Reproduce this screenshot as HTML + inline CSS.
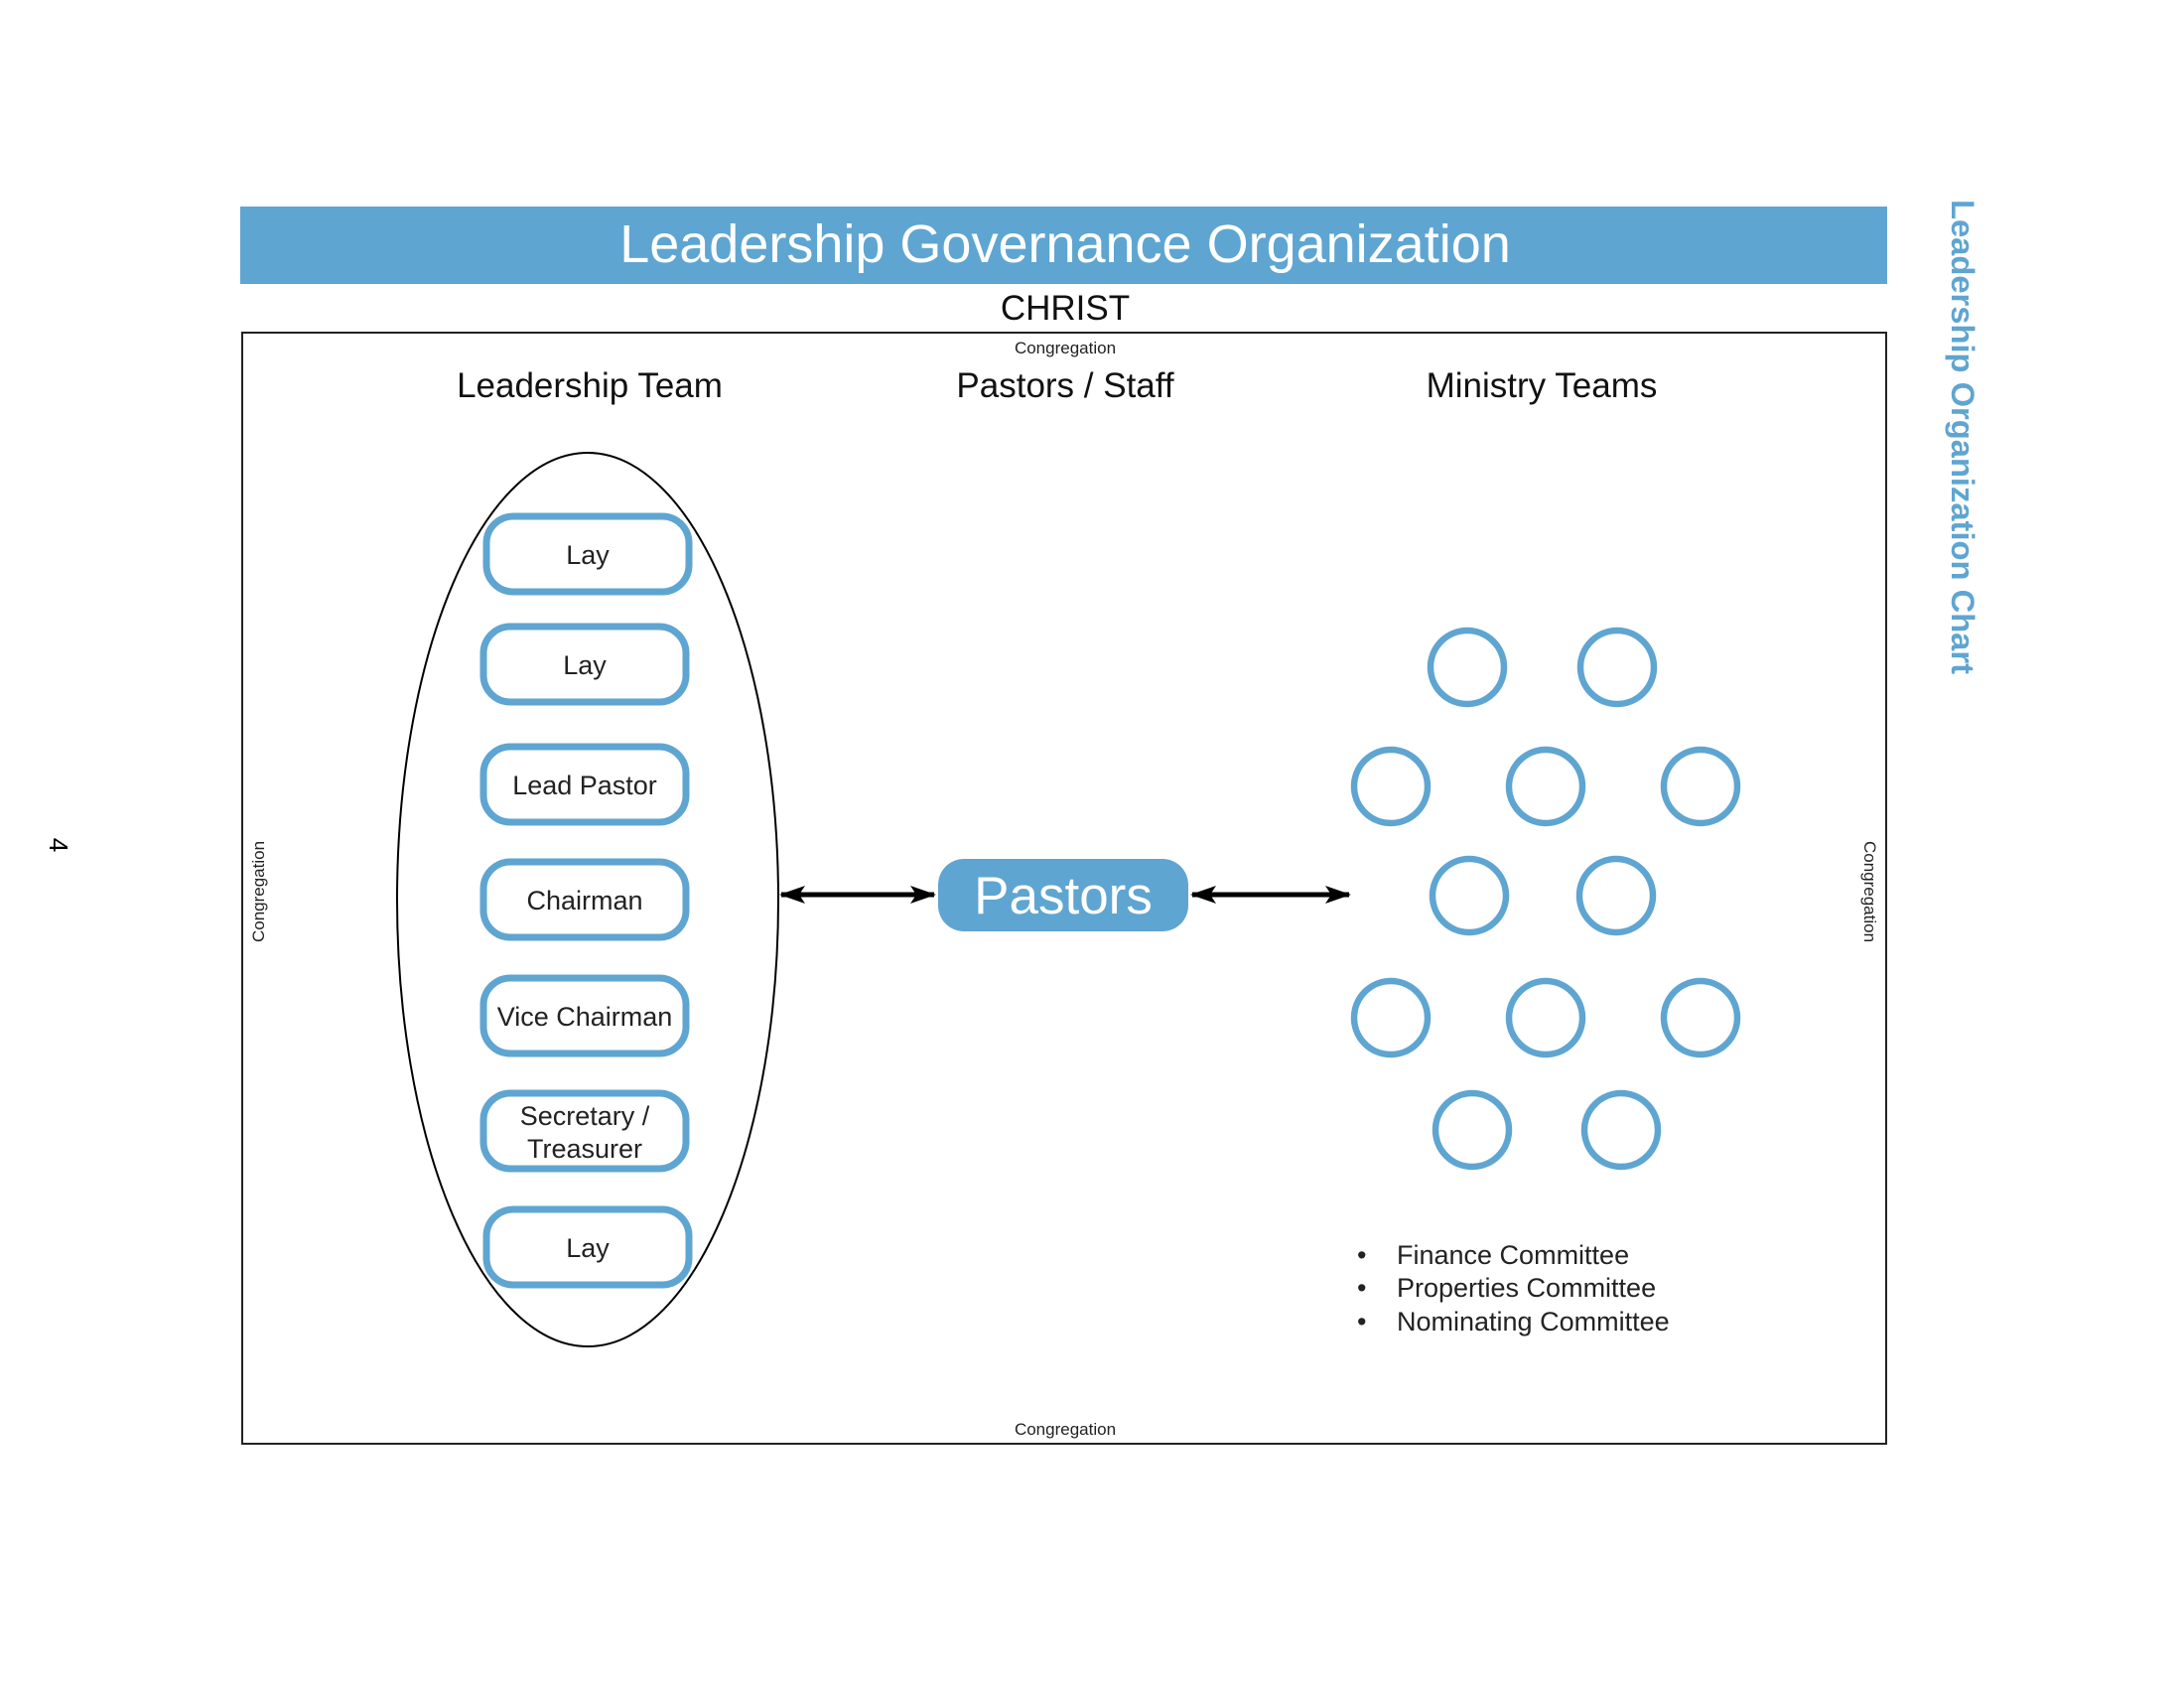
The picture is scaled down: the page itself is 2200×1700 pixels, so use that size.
<!DOCTYPE html>
<html><head><meta charset="utf-8"><style>
html,body{margin:0;padding:0;background:#fff;}
svg{display:block;}
text{font-family:"Liberation Sans",sans-serif;}
</style></head><body>
<svg width="2200" height="1700" viewBox="0 0 2200 1700" xmlns="http://www.w3.org/2000/svg">
<defs>
<marker id="ah" viewBox="0 0 26 18" refX="24" refY="9" markerWidth="26" markerHeight="18" markerUnits="userSpaceOnUse" orient="auto-start-reverse">
<path d="M0,0 L26,9 L0,18 L6,9 Z" fill="#000"/>
</marker>
</defs>
<rect x="242" y="208" width="1659" height="78" fill="#5fa5d1"/>
<text x="1073" y="264" font-size="54" fill="#fff" text-anchor="middle">Leadership Governance Organization</text>
<text x="1073" y="322" font-size="35" fill="#111" text-anchor="middle">CHRIST</text>
<rect x="244" y="335" width="1656" height="1119" fill="none" stroke="#222" stroke-width="2"/>
<text x="1073" y="356" font-size="17" fill="#222" text-anchor="middle">Congregation</text>
<text x="1073" y="1445" font-size="17" fill="#222" text-anchor="middle">Congregation</text>
<text transform="translate(266,898) rotate(-90)" font-size="17" fill="#222" text-anchor="middle">Congregation</text>
<text transform="translate(1878,898) rotate(90)" font-size="17" fill="#222" text-anchor="middle">Congregation</text>
<text x="594" y="400" font-size="35" fill="#111" text-anchor="middle">Leadership Team</text>
<text x="1073" y="400" font-size="35" fill="#111" text-anchor="middle">Pastors / Staff</text>
<text x="1553" y="400" font-size="35" fill="#111" text-anchor="middle">Ministry Teams</text>
<ellipse cx="592" cy="906" rx="192" ry="450" fill="none" stroke="#000" stroke-width="2"/>
<g fill="#fff" stroke="#5fa5d1" stroke-width="7">
<rect x="490" y="520" width="204" height="76" rx="27"/>
<rect x="487" y="631" width="204" height="76" rx="27"/>
<rect x="487" y="752" width="204" height="76" rx="27"/>
<rect x="487" y="868" width="204" height="76" rx="27"/>
<rect x="487" y="985" width="204" height="76" rx="27"/>
<rect x="487" y="1101" width="204" height="76" rx="27"/>
<rect x="490" y="1218" width="204" height="76" rx="27"/>
</g>
<g font-size="27" fill="#222" text-anchor="middle">
<text x="592" y="568">Lay</text>
<text x="589" y="679">Lay</text>
<text x="589" y="800">Lead Pastor</text>
<text x="589" y="916">Chairman</text>
<text x="589" y="1033">Vice Chairman</text>
<text x="589" y="1133">Secretary /</text>
<text x="589" y="1166">Treasurer</text>
<text x="592" y="1266">Lay</text>
</g>
<line x1="787" y1="901" x2="941" y2="901" stroke="#000" stroke-width="5" marker-start="url(#ah)" marker-end="url(#ah)"/>
<line x1="1201" y1="901" x2="1359" y2="901" stroke="#000" stroke-width="5" marker-start="url(#ah)" marker-end="url(#ah)"/>
<rect x="945" y="865" width="252" height="73" rx="26" fill="#5fa5d1"/>
<text x="1071" y="920" font-size="53" fill="#fff" text-anchor="middle">Pastors</text>
<g fill="none" stroke="#5fa5d1" stroke-width="6.5">
<circle cx="1478" cy="672" r="37"/><circle cx="1629" cy="672" r="37"/>
<circle cx="1401" cy="792" r="37"/><circle cx="1557" cy="792" r="37"/><circle cx="1713" cy="792" r="37"/>
<circle cx="1480" cy="902" r="37"/><circle cx="1628" cy="902" r="37"/>
<circle cx="1401" cy="1025" r="37"/><circle cx="1557" cy="1025" r="37"/><circle cx="1713" cy="1025" r="37"/>
<circle cx="1483" cy="1138" r="37"/><circle cx="1633" cy="1138" r="37"/>
</g>
<g font-size="27" fill="#222">
<text x="1367" y="1273">•</text><text x="1407" y="1273">Finance Committee</text>
<text x="1367" y="1306">•</text><text x="1407" y="1306">Properties Committee</text>
<text x="1367" y="1340">•</text><text x="1407" y="1340">Nominating Committee</text>
</g>
<text transform="translate(1966,201) rotate(90)" font-size="32" font-weight="bold" fill="#5fa5d1" textLength="478" lengthAdjust="spacingAndGlyphs">Leadership Organization Chart</text>
<text transform="translate(50,851) rotate(90)" font-size="26" fill="#000" text-anchor="middle">4</text>
</svg>
</body></html>
